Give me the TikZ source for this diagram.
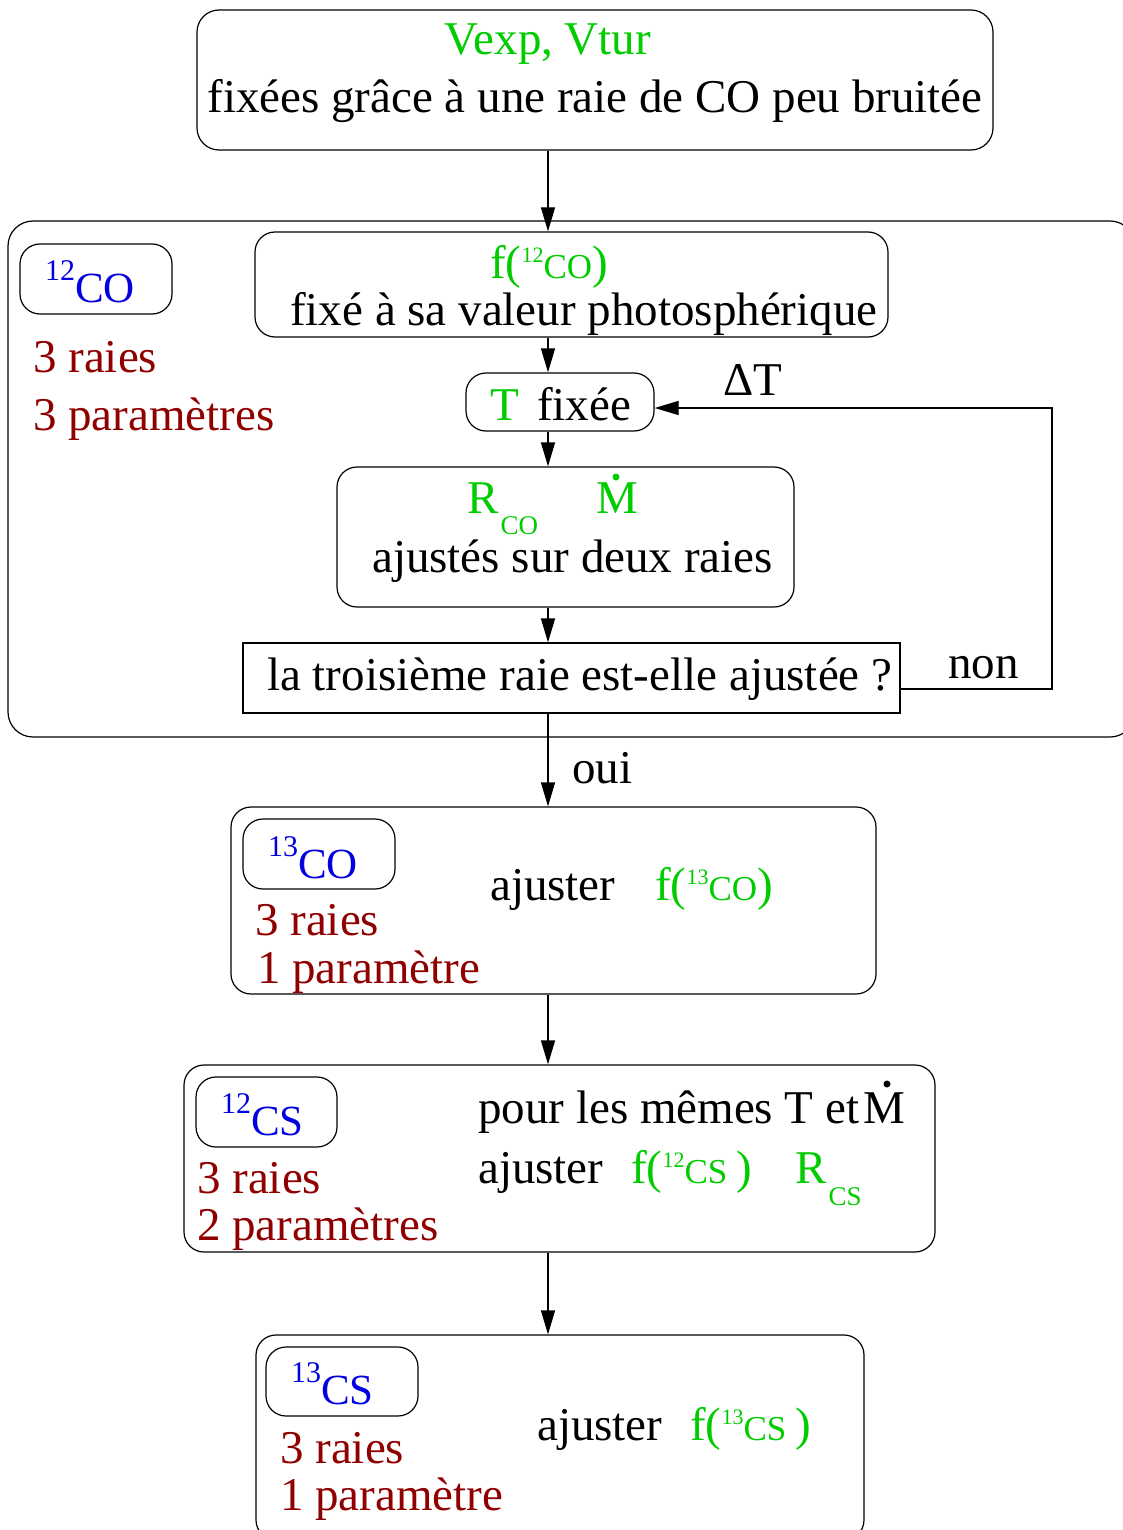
\documentclass[tikz,border=0pt]{standalone}
\usepackage{fontspec}
\setmainfont{Liberation Serif}
\usetikzlibrary{arrows.meta}
\definecolor{grn}{RGB}{0,204,0}
\definecolor{blu}{RGB}{0,0,224}
\definecolor{drd}{RGB}{144,0,0}
\newcommand\szA{\fontsize{47}{56}\selectfont}
\newcommand\szB{\fontsize{43}{50}\selectfont}
\newcommand\szSup{\fontsize{30}{34}\selectfont}
\newcommand\szTiny{\fontsize{22}{25}\selectfont}
\newcommand\szMid{\fontsize{35}{40}\selectfont}
\newcommand\szSub{\fontsize{27}{30}\selectfont}
\newcommand\isot[2]{{\szSup\raisebox{22pt}{#1}}{\szB #2}}
\newcommand\fiso[3]{f({\szTiny\raisebox{16pt}{#1}}{\szMid #2#3})}
\begin{document}
\begin{tikzpicture}[x=1pt,y=-1pt,
  rbox/.style={draw, rounded corners=20pt, line width=1.2pt, inner sep=0pt},
  sbox/.style={draw, line width=1.2pt, inner sep=0pt},
  txt/.style={inner sep=0pt, anchor=base west, font=\szA},
  arr/.style={-{Triangle[length=24pt,width=14pt]}, line width=1.2pt}]
\useasboundingbox (0,0) rectangle (1123,1530);
\coordinate (axis) at (548,0);
% boxes
\node[rbox, rounded corners=22pt, minimum width=796pt, minimum height=140pt] (top) at (595,80) {};
\node[rbox, rounded corners=25pt, minimum width=1127pt, minimum height=516pt] (big) at (571.5,479) {};
\node[rbox, minimum width=152pt, minimum height=70pt] (c12box) at (96,279) {};
\node[rbox, minimum width=633pt, minimum height=105pt] (fbox) at (571.5,284.5) {};
\node[rbox, minimum width=188pt, minimum height=58pt] (tbox) at (560,402) {};
\node[rbox, minimum width=457pt, minimum height=140pt] (rbox) at (565.5,537) {};
\node[sbox, minimum width=657pt, minimum height=70pt] (qbox) at (571.5,678) {};
\node[rbox, minimum width=645pt, minimum height=187pt] (o13box) at (553.5,900.5) {};
\node[rbox, minimum width=152pt, minimum height=70pt] (i13box) at (319,854) {};
\node[rbox, minimum width=751pt, minimum height=187pt] (s12box) at (559.5,1158.5) {};
\node[rbox, minimum width=141pt, minimum height=70pt] (is12box) at (266.5,1112) {};
\node[rbox, minimum width=608pt, minimum height=205pt] (s13box) at (560,1437.5) {};
\node[rbox, minimum width=152pt, minimum height=69pt] (is13box) at (342,1381.5) {};
% texts top
\node[txt, anchor=base, text=grn] (vexp) at (548,55) {Vexp, Vtur};
\node[txt, anchor=base] (fixees) at (595,113) {fixées grâce à une raie de CO peu bruitée};
% 12CO panel
\node[txt, text=blu] (l12co) at (45,302) {\isot{12}{CO}};
\node[txt, text=drd] (r1) at (33,372) {3 raies};
\node[txt, text=drd] (p1) at (33,430) {3 paramètres};
\node[txt, text=grn] (f12co) at (490,278) {\fiso{12}{CO}{}};
\node[txt] (photo) at (290,325) {fixé à sa valeur photosphérique};
\node[txt, text=grn] (tT) at (490,420) {T};
\node[txt] (tfix) at (537,420) {fixée};
\node[txt] (dT) at (723,395) {ΔT};
\node[txt, text=grn] (rco) at (467,513) {R\hspace{2pt}\raisebox{-21pt}{\szSub CO}};
\node[txt, text=grn] (m1) at (596,513) {M};
\fill[grn] (616,477) circle (3.5pt);
\node[txt] (ajds) at (372,572) {ajustés sur deux raies};
\node[txt] (q) at (267,690) {la troisième raie est-elle ajustée ?};
\node[txt] (non) at (948,678) {non};
\node[txt] (oui) at (572,783) {oui};
% 13CO panel
\node[txt, text=blu] (l13co) at (268,878) {\isot{13}{CO}};
\node[txt, text=drd] (r2) at (255,935) {3 raies};
\node[txt, text=drd] (p2) at (257,983) {1 paramètre};
\node[txt] (aj2) at (490,900) {ajuster};
\node[txt, text=grn] (f13co) at (655,900) {\fiso{13}{CO}{}};
% 12CS panel
\node[txt, text=blu] (l12cs) at (221,1135) {\isot{12}{CS}};
\node[txt, text=drd] (r3) at (197,1193) {3 raies};
\node[txt, text=drd] (p3) at (197,1240) {2 paramètres};
\node[txt] (pour) at (478,1123) {pour les mêmes T et\hspace{4pt}M};
\fill (887,1084) circle (3.5pt);
\node[txt] (aj3) at (478,1183) {ajuster};
\node[txt, text=grn] (f12cs) at (631,1183) {\fiso{12}{CS}{\ }};
\node[txt, text=grn] (rcs) at (795,1183) {R\hspace{2pt}\raisebox{-22pt}{\szSub CS}};
% 13CS panel
\node[txt, text=blu] (l13cs) at (291,1404) {\isot{13}{CS}};
\node[txt, text=drd] (r4) at (280,1463) {3 raies};
\node[txt, text=drd] (p4) at (280,1510) {1 paramètre};
\node[txt] (aj4) at (537,1440) {ajuster};
\node[txt, text=grn] (f13cs) at (690,1440) {\fiso{13}{CS}{\ }};
% arrows
\draw[arr] (top.south -| axis) -- (fbox.north -| axis);
\draw[arr] (fbox.south -| axis) -- (tbox.north -| axis);
\draw[arr] (tbox.south -| axis) -- (rbox.north -| axis);
\draw[arr] (rbox.south -| axis) -- (qbox.north -| axis);
\draw[arr] (qbox.south -| axis) -- (o13box.north -| axis);
\draw[arr] (o13box.south -| axis) -- (s12box.north -| axis);
\draw[arr] (s12box.south -| axis) -- (s13box.north -| axis);
\coordinate (fb) at (1052,689);
\draw[arr] (qbox.east |- fb) -- (fb) |- ([yshift=-6pt]tbox.east);
\end{tikzpicture}
\end{document}
